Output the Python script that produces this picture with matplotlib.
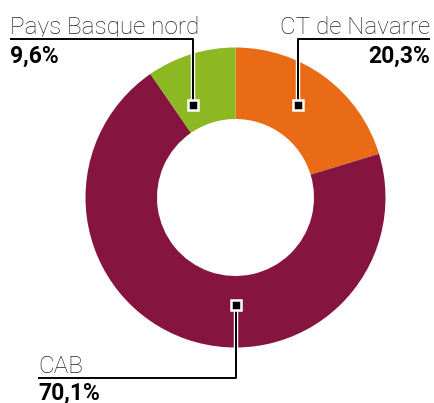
import numpy as np
import matplotlib.pyplot as plt
import matplotlib.patheffects as pe

# data
labels = ["CT de Navarre", "CAB", "Pays Basque nord"]
values = [20.3, 70.1, 9.6]
value_labels = ["20,3%", "70,1%", "9,6%"]
colors = ["#ea6b15", "#85143f", "#8cb822"]

W, H = 435, 403
CX, CY, R, R_IN = 235.5, H - 197.5, 150, 78.5

plt.rcParams["font.family"] = ["Roboto", "DejaVu Sans"]

fig = plt.figure(figsize=(W / 100, H / 100), dpi=100)
ax = fig.add_axes([0, 0, 1, 1])

ax.pie(values, colors=colors, startangle=90, counterclock=False,
       center=(CX, CY), radius=R, frame=True,
       wedgeprops=dict(width=R - R_IN, linewidth=0))
ax.set_xlim(0, W)
ax.set_ylim(0, H)
ax.set_aspect("equal")
ax.axis("off")

# label anchors: (angle deg, radius, elbow y, end x, text side, value offset)
anchors = [
    (55.9, 112, H - 39, 430, "right", 24),
    (270.5, 108, H - 378, 38, "left", 21.5),
    (114.8, 102, H - 39, 10, "left", 24),
]

halo = [pe.Stroke(linewidth=3.2, foreground="white"), pe.Normal()]
for lab, vlab, (ang, rr, ey, ex, side, off) in zip(labels, value_labels, anchors):
    mx = CX + rr * np.cos(np.radians(ang))
    my = CY + rr * np.sin(np.radians(ang))
    ax.plot([mx, mx, ex], [my, ey, ey], color="black", lw=1.4,
            path_effects=halo, solid_capstyle="butt", zorder=5)
    ax.plot([mx], [my], marker="s", ms=6.8, mfc="black", mec="white",
            mew=1.8, zorder=6)
    ax.text(ex, ey + 5, lab, ha=side, va="baseline", fontsize=17.5,
            fontweight="light", color="#222222")
    ax.text(ex, ey - off, vlab, ha=side, va="baseline", fontsize=16.5,
            fontweight="bold", color="black")

fig.savefig("out.png", dpi=100)
